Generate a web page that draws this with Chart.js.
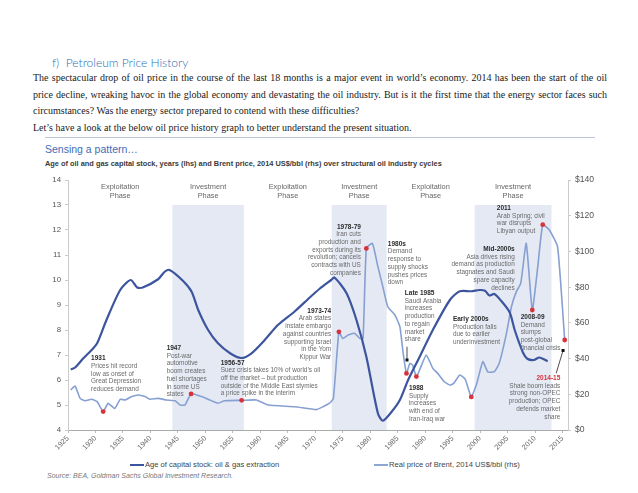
<!DOCTYPE html>
<html>
<head>
<meta charset="utf-8">
<script src="https://cdn.jsdelivr.net/npm/chart.js@4.4.1/dist/chart.umd.min.js"></script>
<style>
  html, body { margin: 0; padding: 0; background: #fff; }
  body { width: 638px; height: 493px; position: relative; overflow: hidden; }
  .abs { position: absolute; white-space: nowrap; }
  h2 { position: absolute; left: 52px; top: 55px; margin: 0; font: 300 12px Lato, "Open Sans", sans-serif; color: #2e6fb3; }
  .body { left: 33px; font: 10px "Liberation Serif", "Times New Roman", serif; color: #1a1a1a; line-height: 12px; }
  .rule { position: absolute; left: 45px; top: 137px; width: 550px; height: 1px; background: #b9c6de; }
  .sense { left: 45px; top: 143px; font: 10.5px "Liberation Sans", Arial, sans-serif; color: #3f6db5; }
  .sub { left: 45px; top: 159px; font: bold 7.4px "Liberation Sans", Arial, sans-serif; color: #3a3a3a; }
  #wrap { position: absolute; left: 0; top: 170px; width: 638px; height: 290px; }
  .leg { top: 460px; font: 7.6px "Liberation Sans", Arial, sans-serif; color: #444; }
  .mark { position: absolute; top: 464px; width: 14px; height: 2px; }
  .src { left: 47px; top: 472px; font: italic 7px "Liberation Sans", Arial, sans-serif; color: #777; }
</style>
</head>
<body>
<h2>f)&nbsp; Petroleum Price History</h2>
<div class="abs body" id="l1" style="top:72px">The spectacular drop of oil price in the course of the last 18 months is a major event in world’s economy. 2014 has been the start of the oil</div>
<div class="abs body" id="l2" style="top:89px">price decline, wreaking havoc in the global economy and devastating the oil industry. But is it the first time that the energy sector faces such</div>
<div class="abs body" id="l3" style="top:105px">circumstances? Was the energy sector prepared to contend with these difficulties?</div>
<div class="abs body" id="l4" style="top:122px">Let’s have a look at the below oil price history graph to better understand the present situation.</div>
<div class="rule"></div>
<div class="abs sense">Sensing a pattern…</div>
<div class="abs sub">Age of oil and gas capital stock, years (lhs) and Brent price, 2014 US$/bbl (rhs) over structural oil industry cycles</div>
<div id="wrap"><canvas id="oilChart"></canvas></div>
<div class="mark" style="left:130px;background:#3d559e"></div>
<div class="abs leg" style="left:145px">Age of capital stock: oil &amp; gas extraction</div>
<div class="mark" style="left:374px;background:#8ea6d4"></div>
<div class="abs leg" style="left:389px">Real price of Brent, 2014 US$/bbl (rhs)</div>
<div class="abs src">Source: BEA, Goldman Sachs Global Investment Research.</div>

<script>
// age of oil & gas capital stock, years (lhs)
const ageYears = [1925.5, 1926.3, 1927.8, 1929.3, 1930.3, 1932.0, 1934.5, 1936.4, 1937.6, 1938.6,
  1941.4, 1942.6, 1943.5, 1946.0, 1947.5, 1948.7, 1950.5, 1952.3, 1954.5, 1956.5,
  1958.4, 1960.8, 1963.2, 1966.3, 1969.0, 1970.8, 1972.9, 1973.5, 1975.7, 1977.5,
  1979.3, 1981.4, 1982.3, 1983.9, 1985.4, 1986.9, 1989.0, 1991.4, 1994.5, 1996.3,
  1998.4, 1999.9, 2000.9, 2001.7, 2002.6, 2003.9, 2005.4, 2006.3, 2007.8, 2008.6,
  2009.8, 2010.8, 2012.3];
const ageValues = [6.42, 6.5, 6.87, 7.2, 7.47, 8.4, 9.6, 10.0, 9.7, 9.7,
  10.03, 10.33, 10.4, 9.95, 9.53, 8.8, 8.0, 7.47, 7.07, 6.88,
  7.07, 7.6, 8.2, 8.75, 9.3, 9.65, 10.0, 10.1, 9.47, 8.4,
  6.93, 4.67, 4.37, 4.73, 5.2, 6.0, 6.93, 8.0, 9.2, 9.55,
  9.55, 9.6, 9.57, 9.38, 9.44, 9.15, 8.7, 8.0, 7.1, 6.85,
  6.8, 6.9, 6.75];

// real price of Brent, 2014 US$/bbl (rhs)
const brentYears = [1925.5, 1926.3, 1927.2, 1928.1, 1929.3, 1930.3, 1931.4, 1932.3, 1933.5, 1934.5,
  1935.4, 1936.6, 1937.8, 1939.0, 1939.9, 1941.4, 1942.9, 1944.5, 1945.4, 1946.3,
  1947.4, 1949.3, 1950.8, 1952.3, 1953.5, 1956.6, 1959.3, 1961.4, 1966.3, 1970.2,
  1971.5, 1972.6, 1973.3, 1974.3, 1975.0, 1976.0, 1977.2, 1978.1, 1978.7, 1979.3,
  1980.4, 1981.4, 1982.3, 1983.2, 1984.5, 1985.4, 1986.0, 1986.6, 1987.2, 1987.7,
  1988.4, 1989.0, 1990.2, 1991.4, 1992.3, 1993.5, 1994.5, 1995.2, 1996.3, 1997.3,
  1998.4, 1999.4, 2000.5, 2001.4, 2002.6, 2003.5, 2004.8, 2005.7, 2006.6, 2007.4,
  2008.4, 2009.5, 2010.5, 2011.4, 2012.6, 2014.1, 2015.4];
const brentValues = [22.4, 24.6, 17.7, 16.4, 17.2, 15.9, 10.3, 14.9, 12.1, 17.2,
  16.8, 18.7, 19.6, 18.7, 17.2, 17.7, 16.8, 16.4, 14.0, 14.0,
  20.2, 18.7, 16.8, 15.0, 16.4, 16.6, 16.8, 14.0, 13.0, 11.4,
  13.2, 15.0, 17.7, 55.0, 51.3, 53.2, 54.1, 51.3, 51.3, 101.7,
  104.5, 91.5, 80.3, 69.0, 64.4, 57.9, 43.0, 31.7, 37.3, 36.5,
  29.9, 33.6, 42.0, 34.5, 31.7, 27.0, 25.2, 26.1, 30.8, 28.4,
  18.5, 26.1, 38.3, 32.5, 32.7, 37.5, 54.1, 69.0, 77.5, 82.1,
  104.5, 67.2, 91.5, 115.0, 112.0, 102.7, 50.4];

// highlighted price events (red dots)
const eventYears = [1931.4, 1947.4, 1956.6, 1974.3, 1979.3, 1986.6, 1988.4, 1998.4, 2009.5, 2011.4, 2015.4];
const eventPrices = [10.3, 20.2, 16.6, 55.0, 101.7, 31.7, 29.9, 18.5, 67.2, 115.0, 50.4];

// structural cycles
const phaseNames = ['Exploitation', 'Investment', 'Exploitation', 'Investment', 'Exploitation', 'Investment'];
const phaseStarts = [1925, 1944, 1957, 1973, 1983, 1999];
const phaseEnds = [1944, 1957, 1973, 1983, 1999, 2013];

const tickYears = [1925, 1930, 1935, 1940, 1945, 1950, 1955, 1960, 1965, 1970,
  1975, 1980, 1985, 1990, 1995, 2000, 2005, 2010, 2015];

// event notes, anchored in (year, lhs years) units
const notes = [
  { x: 1929.2, y: 6.86, align: 'left', title: '1931', lines: ['Prices hit record', 'low as onset of', 'Great Depression', 'reduces demand'] },
  { x: 1942.95, y: 7.27, align: 'left', title: '1947', lines: ['Post-war', 'automotive', 'boom creates', 'fuel shortages', 'in some US', 'states'] },
  { x: 1952.8, y: 6.69, align: 'left', title: '1956-57', lines: ['Suez crisis takes 10% of world’s oil', 'off the market – but production', 'outside of the Middle East stymies', 'a price spike in the interim'] },
  { x: 1972.9, y: 8.76, align: 'right', title: '1973-74', lines: ['Arab states', 'instate embargo', 'against countries', 'supporting Israel', 'in the Yom', 'Kippur War'] },
  { x: 1978.3, y: 12.13, align: 'right', title: '1978-79', lines: ['Iran cuts', 'production and', 'exports during its', 'revolution; cancels', 'contracts with US', 'companies'] },
  { x: 1983.2, y: 11.44, align: 'left', title: '1980s', lines: ['Demand', 'response to', 'supply shocks', 'pushes prices', 'down'] },
  { x: 1986.3, y: 9.47, align: 'left', title: 'Late 1985', lines: ['Saudi Arabia', 'increases', 'production', 'to regain', 'market', 'share'] },
  { x: 1987.05, y: 5.67, align: 'left', title: '1988', lines: ['Supply', 'increases', 'with end of', 'Iran-Iraq war'] },
  { x: 1995.05, y: 8.43, align: 'left', title: 'Early 2000s', lines: ['Production falls', 'due to earlier', 'underinvestment'] },
  { x: 2006.3, y: 11.23, align: 'right', title: 'Mid-2000s', lines: ['Asia drives rising', 'demand as production', 'stagnates and Saudi', 'spare capacity', 'declines'] },
  { x: 2003.05, y: 12.87, align: 'left', title: '2011', lines: ['Arab Spring; civil', 'war disrupts', 'Libyan output'] },
  { x: 2007.4, y: 8.51, align: 'left', title: '2008-09', lines: ['Demand', 'slumps', 'post-global', 'financial crisis'] },
  { x: 2014.6, y: 6.07, align: 'right', title: '2014-15', red: true, lines: ['Shale boom leads', 'strong non-OPEC', 'production; OPEC', 'defends market', 'share'] }
];
const arrows = [
  { from: [1986.7, 7.33], to: [1986.7, 6.8] },
  { from: [2013.85, 6.27], to: [2015.1, 7.18] }
];

function zip(xs, ys) {
  return xs.map((x, i) => ({ x: x, y: ys[i] }));
}

const cyclePlugin = {
  id: 'cycles',
  beforeDatasetsDraw(chart) {
    const { ctx, scales: { x, y } } = chart;
    ctx.save();
    phaseNames.forEach((name, i) => {
      const x0 = x.getPixelForValue(phaseStarts[i]);
      const x1 = x.getPixelForValue(phaseEnds[i]);
      if (name === 'Investment') {
        ctx.fillStyle = '#e4e9f4';
        ctx.fillRect(x0, y.getPixelForValue(13), x1 - x0, y.getPixelForValue(4) - y.getPixelForValue(13));
      }
      ctx.fillStyle = '#666';
      ctx.font = '7.4px "Liberation Sans", Arial, sans-serif';
      ctx.textAlign = 'center';
      ctx.textBaseline = 'middle';
      const cx = (x0 + x1) / 2;
      ctx.fillText(name, cx, y.getPixelForValue(13.72));
      ctx.fillText('Phase', cx, y.getPixelForValue(13.36));
    });
    ctx.restore();
  },
  afterDatasetsDraw(chart) {
    const { ctx, scales: { x, y } } = chart;
    ctx.save();
    ctx.textBaseline = 'middle';
    notes.forEach(n => {
      const px = x.getPixelForValue(n.x);
      let py = y.getPixelForValue(n.y);
      ctx.textAlign = n.align;
      ctx.font = 'bold 6.5px "Liberation Sans", Arial, sans-serif';
      ctx.fillStyle = n.red ? '#d8323a' : '#2a2a2a';
      ctx.fillText(n.title, px, py);
      ctx.font = '6.4px "Liberation Sans", Arial, sans-serif';
      ctx.fillStyle = '#6a6a6a';
      n.lines.forEach(line => {
        py += 7.7;
        ctx.fillText(line, px, py);
      });
    });
    ctx.strokeStyle = '#222';
    ctx.fillStyle = '#111';
    ctx.lineWidth = 0.8;
    arrows.forEach(a => {
      const x0 = x.getPixelForValue(a.from[0]), y0 = y.getPixelForValue(a.from[1]);
      const x1 = x.getPixelForValue(a.to[0]), y1 = y.getPixelForValue(a.to[1]);
      ctx.beginPath();
      ctx.moveTo(x0, y0);
      ctx.lineTo(x1, y1);
      ctx.stroke();
      ctx.fillRect(x1 - 1.5, y1 - 1.5, 3, 3);
    });
    ctx.restore();
  }
};

document.addEventListener('DOMContentLoaded', function () {
  // stretch the justified paragraph lines to the page width
  [['l1', 574], ['l2', 574]].forEach(([id, target]) => {
    const el = document.getElementById(id);
    const spaces = (el.textContent.match(/ /g) || []).length;
    const extra = target - el.getBoundingClientRect().width;
    el.style.wordSpacing = (extra / spaces) + 'px';
  });

  const ctx = document.getElementById('oilChart').getContext('2d');
  new Chart(ctx, {
    type: 'line',
    data: {
      datasets: [
        {
          label: 'Events',
          type: 'scatter',
          data: zip(eventYears, eventPrices),
          yAxisID: 'y1',
          pointRadius: 2.4,
          pointBackgroundColor: '#d8323a',
          pointBorderWidth: 0,
          order: 0
        },
        {
          label: 'Age of capital stock: oil & gas extraction',
          data: zip(ageYears, ageValues),
          yAxisID: 'y',
          borderColor: '#3d559e',
          borderWidth: 2.2,
          pointRadius: 0,
          tension: 0.25,
          order: 1
        },
        {
          label: 'Real price of Brent, 2014 US$/bbl (rhs)',
          data: zip(brentYears, brentValues),
          yAxisID: 'y1',
          borderColor: '#86a0d2',
          borderWidth: 1.6,
          pointRadius: 0,
          tension: 0.15,
          order: 2
        }
      ]
    },
    options: {
      responsive: true,
      maintainAspectRatio: false,
      animation: false,
      layout: { padding: { top: 10, left: 0, right: 0, bottom: 0 } },
      plugins: { legend: { display: false }, tooltip: { enabled: false } },
      scales: {
        x: {
          type: 'linear',
          min: 1925,
          max: 2016,
          afterBuildTicks: s => { s.ticks = tickYears.map(v => ({ value: v })); },
          afterFit: s => { s.height = 30; },
          grid: { drawOnChartArea: false, drawTicks: true, tickLength: 3, color: '#bbb' },
          border: { color: '#aaa', dash: [1, 2] },
          ticks: {
            minRotation: 45,
            maxRotation: 45,
            padding: 1,
            color: '#666',
            font: { size: 7.4, family: '"Liberation Sans", Arial, sans-serif' },
            callback: v => String(v)
          }
        },
        y: {
          position: 'left',
          min: 4,
          max: 14,
          afterFit: s => { s.width = 68; },
          grid: { drawOnChartArea: false, tickLength: 3, color: '#ccc' },
          border: { color: '#ccc' },
          ticks: {
            stepSize: 1,
            padding: 4,
            color: '#555',
            font: { size: 7.8, family: '"Liberation Sans", Arial, sans-serif' }
          }
        },
        y1: {
          position: 'right',
          min: 0,
          max: 140,
          afterFit: s => { s.width = 70; },
          grid: { drawOnChartArea: false, tickLength: 3, color: '#ccc' },
          border: { color: '#ccc' },
          ticks: {
            stepSize: 20,
            padding: 4,
            color: '#555',
            font: { size: 8.6, family: '"Liberation Sans", Arial, sans-serif' },
            callback: v => '$' + v
          }
        }
      }
    },
    plugins: [cyclePlugin]
  });
});
</script>
</body>
</html>
